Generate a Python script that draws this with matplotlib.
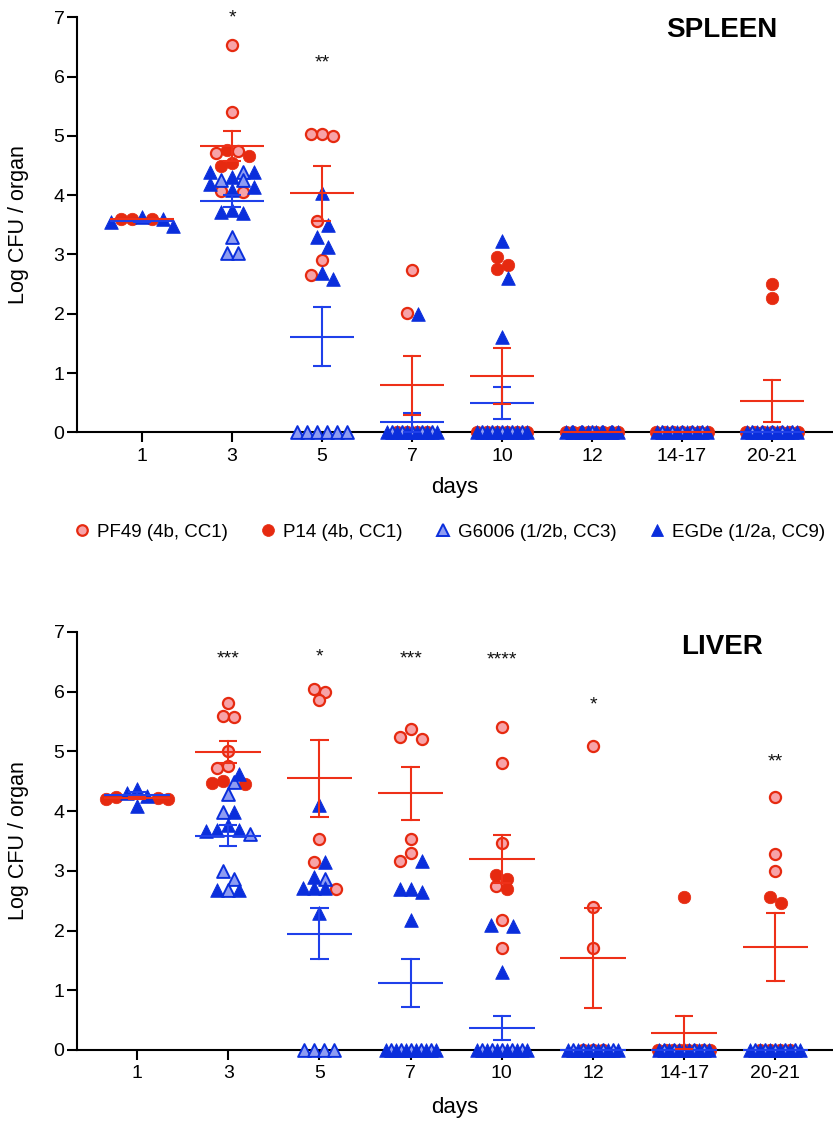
import numpy as np
import matplotlib
matplotlib.use('Agg')
import matplotlib.pyplot as plt
from matplotlib.lines import Line2D

plt.rcParams['font.family'] = ['Liberation Sans', 'DejaVu Sans']

days = ['1', '3', '5', '7', '10', '12', '14-17', '20-21']
series_names = ['PF49 (4b, CC1)', 'P14 (4b, CC1)', 'G6006 (1/2b, CC3)', 'EGDe (1/2a, CC9)']

# ---------------- SPLEEN (log CFU / organ) ----------------
spleen_pf49 = [[], [6.53, 5.41, 4.74, 4.71, 4.07, 4.05], [5.03, 5.03, 5.0, 3.57, 2.9, 2.65],
               [2.74, 2.01], [], [], [], []]
spleen_p14 = [[3.6, 3.6, 3.6], [4.76, 4.66, 4.54, 4.5], [], [0, 0, 0, 0],
              [2.95, 2.82, 2.75, 0, 0, 0, 0, 0, 0], [0] * 8, [0] * 7, [2.5, 2.26] + [0] * 7]
spleen_g6006 = [[], [4.39, 4.25, 4.25, 3.29, 3.02, 3.02], [0] * 6, [0] * 5, [0] * 5, [0] * 5,
                [0] * 5, [0] * 5]
spleen_egde = [[3.55, 3.63, 3.48, 3.6], [4.39, 4.39, 4.19, 4.09, 4.14, 3.75, 3.72, 3.7, 4.3],
               [4.03, 3.5, 3.3, 3.13, 2.69, 2.58], [2.0] + [0] * 6, [3.23, 2.6, 1.6] + [0] * 6,
               [0] * 8, [0] * 6, [0] * 6]
spleen_red_mean = [3.6, 4.83, 4.03, 0.79, 0.95, 0, 0, 0.53]
spleen_red_sem = [0.01, 0.25, 0.46, 0.5, 0.47, 0, 0, 0.35]
spleen_blue_mean = [3.57, 3.9, 1.61, 0.17, 0.5, 0, 0, 0]
spleen_blue_sem = [0.02, 0.1, 0.5, 0.16, 0.27, 0, 0, 0]
spleen_stars = {1: ('*', 7.04), 2: ('**', 6.28)}

# ---------------- LIVER (log CFU / organ) ----------------
liver_pf49 = [[], [5.81, 5.6, 5.57, 5.0, 4.73, 4.76], [6.0, 6.04, 5.86, 3.53, 3.14, 2.7],
              [5.37, 5.2, 5.25, 3.53, 3.3, 3.17], [5.41, 4.8, 3.47, 2.75, 2.18, 1.7],
              [5.09, 2.4, 1.7, 0, 0, 0], [], [4.24, 3.29, 3.0]]
liver_p14 = [[4.2, 4.22, 4.24, 4.2], [4.47, 4.45, 4.5], [], [], [2.93, 2.86, 2.69], [],
             [2.57] + [0] * 8, [2.56, 2.47, 0, 0, 0, 0]]
liver_g6006 = [[], [4.48, 4.28, 3.98, 3.62, 3.0, 2.86, 2.68], [2.86, 0, 0, 0, 0], [0] * 5,
               [0] * 5, [0] * 5, [0] * 5, [0] * 5]
liver_egde = [[4.25, 4.3, 4.37, 4.09], [4.63, 3.98, 3.76, 3.67, 3.68, 3.68, 2.68, 2.68],
              [4.1, 3.14, 2.89, 2.71, 2.71, 2.71, 2.29], [3.16, 2.69, 2.69, 2.65, 2.17] + [0] * 6,
              [2.09, 2.07, 1.3] + [0] * 6, [0] * 6, [0] * 6, [0] * 6]
liver_red_mean = [4.22, 4.99, 4.55, 4.3, 3.2, 1.54, 0.29, 1.73]
liver_red_sem = [0.02, 0.18, 0.64, 0.44, 0.4, 0.83, 0.28, 0.57]
liver_blue_mean = [4.27, 3.59, 1.95, 1.12, 0.37, 0, 0, 0]
liver_blue_sem = [0.05, 0.17, 0.43, 0.4, 0.2, 0, 0, 0]
liver_stars = {1: ('***', 6.6), 2: ('*', 6.62), 3: ('***', 6.6), 4: ('****', 6.58),
               5: ('*', 5.83), 7: ('**', 4.87)}

# ---------------- styles ----------------
RED = '#E62A10'
PINK = '#F7A3A8'
BLUE = '#0A2EDC'
LBLUE = '#8E9CF2'
RED_L = '#EE3018'
BLUE_L = '#1F40EA'

styles = [
    dict(marker='o', ms=8.0, fc=PINK, ec=RED, lw=1.6),
    dict(marker='o', ms=9.0, fc=RED, ec=RED, lw=0.5),
    dict(marker='^', ms=9.2, fc=LBLUE, ec=BLUE, lw=1.4),
    dict(marker='^', ms=9.8, fc=BLUE, ec=BLUE, lw=0.6),
]


def layout_column(col_series, ppx, ppy, row_h=10.5, sp=11.0, zspan=52.0, maxw=62.0):
    """Return per-series x offsets (data units) for one day column.
    Non-zero values of all series are arranged jointly in horizontal rows;
    zero values of each series are spread in a symmetric row."""
    offs = [[0.0] * len(v) for v in col_series]
    for s, vals in enumerate(col_series):
        zi = [i for i, v in enumerate(vals) if v == 0]
        n = len(zi)
        if n > 1:
            step = min(10.0, zspan / (n - 1))
            for k, i in enumerate(zi):
                offs[s][i] = (k - (n - 1) / 2.0) * step
    pts = [(v, s, i) for s, vals in enumerate(col_series) for i, v in enumerate(vals) if v != 0]
    pts.sort(key=lambda p: -p[0])
    rows = []
    for p in pts:
        if rows and (rows[-1][0][0] - p[0]) * ppy <= row_h:
            rows[-1].append(p)
        else:
            rows.append([p])
    for row in rows:
        n = len(row)
        step = sp if n < 2 else min(sp, maxw / (n - 1))
        slots = [(k - (n - 1) / 2.0) * step for k in range(n)]
        slots.sort(key=lambda c: (abs(c), c))
        for (v, s, i), c in zip(row, slots):
            offs[s][i] = c
    return [[o / ppx for o in so] for so in offs]


fig = plt.figure(figsize=(8.33, 11.22), dpi=100)
W, H = 833.0, 1122.0


def make_axes(left_px, bottom_px, top_px, x0_px, step_px):
    ax = fig.add_axes([left_px / W, 1 - bottom_px / H, 1 - left_px / W, (bottom_px - top_px) / H])
    ax.set_xlim((left_px - x0_px) / step_px, (W - x0_px) / step_px)
    ax.set_ylim(0, 7)
    ppx = step_px
    ppy = (bottom_px - top_px) / 7.0
    return ax, ppx, ppy


def draw_panel(ax, ppx, ppy, data, red_mean, red_sem, blue_mean, blue_sem, stars, title, title_y):
    ndays = len(days)
    all_offs = [layout_column([data[s][d] for s in range(len(data))], ppx, ppy)
                for d in range(ndays)]
    for s_i, (series, st) in enumerate(zip(data, styles)):
        for d_i, vals in enumerate(series):
            if not vals:
                continue
            xs = [d_i + o for o in all_offs[d_i][s_i]]
            ax.scatter(xs, vals, s=st['ms'] ** 2, marker=st['marker'], facecolor=st['fc'],
                       edgecolor=st['ec'], linewidths=st['lw'], clip_on=False, zorder=3 + s_i)
    for means, sems, col, z in [(blue_mean, blue_sem, BLUE_L, 8), (red_mean, red_sem, RED_L, 9)]:
        for i, (m, s) in enumerate(zip(means, sems)):
            ax.plot([i - 0.36, i + 0.36], [m, m], color=col, lw=1.5, zorder=z, clip_on=False,
                    solid_capstyle='butt')
            if s > 0.015:
                ax.plot([i, i], [max(m - s, 0), m + s], color=col, lw=1.5, zorder=z, clip_on=False)
                for yy in (m - s, m + s):
                    if yy > 0.005:
                        ax.plot([i - 0.1, i + 0.1], [yy, yy], color=col, lw=1.5, zorder=z,
                                clip_on=False, solid_capstyle='butt')
    for i, (txt, v) in stars.items():
        ax.annotate(txt, (i, v), xytext=(0, -5.2), textcoords='offset points',
                    ha='center', va='baseline', fontsize=14, color='#111111',
                    annotation_clip=False)
    ax.spines['top'].set_visible(False)
    ax.spines['right'].set_visible(False)
    for sp in ('left', 'bottom'):
        ax.spines[sp].set_linewidth(1.5)
        ax.spines[sp].set_zorder(2)
    ax.set_xticks(range(len(days)))
    ax.set_xticklabels(days)
    ax.set_yticks(range(8))
    ax.tick_params(axis='both', direction='out', length=7, width=1.5, labelsize=14,
                   color='black')
    ax.tick_params(axis='x', pad=4)
    ax.tick_params(axis='y', pad=2)
    fig.text(722 / W, 1 - title_y / H, title, ha='center', va='center', fontsize=20,
             fontweight='bold')


# spleen
ax1, ppx1, ppy1 = make_axes(77, 432.3, 17.3, 142, 90.0)
draw_panel(ax1, ppx1, ppy1, [spleen_pf49, spleen_p14, spleen_g6006, spleen_egde],
           spleen_red_mean, spleen_red_sem, spleen_blue_mean, spleen_blue_sem, spleen_stars,
           'SPLEEN', 30)
# liver
ax2, ppx2, ppy2 = make_axes(77, 1050, 632, 137, 91.2)
draw_panel(ax2, ppx2, ppy2, [liver_pf49, liver_p14, liver_g6006, liver_egde],
           liver_red_mean, liver_red_sem, liver_blue_mean, liver_blue_sem, liver_stars,
           'LIVER', 647)

for yc in (224.8, 841):
    fig.text(19 / W, 1 - yc / H, 'Log CFU / organ', rotation=90, ha='center', va='center',
             fontsize=15.5)
for yc in (488, 1107):
    fig.text(455 / W, 1 - yc / H, 'days', ha='center', va='center', fontsize=16)

handles = []
for name, st in zip(series_names, styles):
    handles.append(Line2D([], [], ls='', marker=st['marker'], markersize=st['ms'] * 0.95,
                          markerfacecolor=st['fc'], markeredgecolor=st['ec'],
                          markeredgewidth=st['lw'], label=name))
fig.legend(handles=handles, loc='center', bbox_to_anchor=(450 / W, 1 - 532 / H), ncol=4,
           frameon=False, fontsize=13.5, handlelength=0.8, handletextpad=0.4,
           columnspacing=1.75, borderaxespad=0)

fig.savefig('out.png', dpi=100)
